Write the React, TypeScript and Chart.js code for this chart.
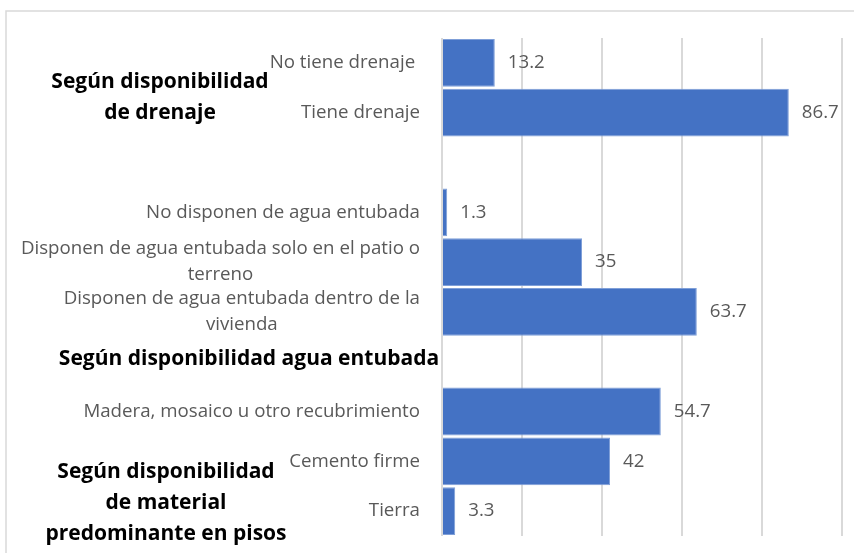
import React, { useEffect, useRef } from "react";
import { Chart, registerables } from "chart.js";

Chart.register(...registerables);

// ---- Data ----
const categories: (string | string[])[] = [
  "No tiene drenaje ",
  "Tiene drenaje",
  "",
  "No disponen de agua entubada",
  ["Disponen de agua entubada solo en el patio o", "terreno"],
  ["Disponen de agua entubada dentro de la", "vivienda"],
  "",
  "Madera, mosaico u otro recubrimiento",
  "Cemento firme",
  "Tierra",
];
const values: (number | null)[] = [13.2, 86.7, null, 1.3, 35, 63.7, null, 54.7, 42, 3.3];
const groupLabels: string[][] = [
  ["Según disponibilidad", "de drenaje"],
  ["Según disponibilidad agua entubada"],
  ["Según disponibilidad", "de material", "predominante en pisos"],
];
const xMin = 0;
const xMax = 100;
const xStep = 20;

// ---- Style ----
const FONT = "'Open Sans', Lato, sans-serif";
const LABEL_SIZE = 18.7;
const LABEL_LINE = 26;
const GROUP_SIZE = 21;
const GROUP_LINE = 31;
const TEXT_GRAY = "#595959";
const GRID = "#d9d9d9";
const BAR = "#4472C4";
// placement of group labels: fractional category index and x centre
const groupPlacement = [
  { at: 0.7, cx: 160 },
  { at: 5.95, cx: 249 },
  { at: 8.84, cx: 166 },
];

const framePlugin = {
  id: "frame",
  beforeDraw(chart: any) {
    const ctx = chart.ctx;
    ctx.save();
    ctx.fillStyle = "#ffffff";
    ctx.fillRect(0, 0, chart.width, chart.height);
    ctx.strokeStyle = GRID;
    ctx.lineWidth = 1.5;
    ctx.beginPath();
    ctx.moveTo(6, 553);
    ctx.lineTo(6, 11);
    ctx.lineTo(chart.width, 11);
    ctx.stroke();
    ctx.restore();
  },
};

const labelsPlugin = {
  id: "customLabels",
  afterDatasetsDraw(chart: any) {
    const ctx = chart.ctx;
    const yScale = chart.scales.y;
    const area = chart.chartArea;
    ctx.save();
    // category labels
    ctx.font = `${LABEL_SIZE}px ${FONT}`;
    ctx.fillStyle = TEXT_GRAY;
    ctx.textBaseline = "middle";
    ctx.textAlign = "center";
    const rightEdge = area.left - 22;
    (chart.data.labels as (string | string[])[]).forEach((lab, i) => {
      const lines = Array.isArray(lab) ? lab : [lab];
      if (!lines.join("")) return;
      const widest = Math.max(...lines.map((l) => ctx.measureText(l).width));
      const cy = yScale.getPixelForValue(i);
      const y0 = cy - ((lines.length - 1) * LABEL_LINE) / 2;
      if (lines.length === 1) {
        ctx.textAlign = "right";
        ctx.fillText(lines[0], rightEdge, cy);
        ctx.textAlign = "center";
      } else {
        const cx = rightEdge - widest / 2;
        lines.forEach((l, k) => ctx.fillText(l, cx, y0 + k * LABEL_LINE));
      }
    });
    // value labels
    ctx.textAlign = "left";
    const meta = chart.getDatasetMeta(0);
    meta.data.forEach((bar: any, i: number) => {
      const v = chart.data.datasets[0].data[i];
      if (v === null || v === undefined) return;
      ctx.fillText(String(v), bar.x + 13, bar.y);
    });
    // group labels
    ctx.font = `bold ${GROUP_SIZE}px ${FONT}`;
    ctx.fillStyle = "#000000";
    ctx.textAlign = "center";
    groupLabels.forEach((lines, g) => {
      const p = groupPlacement[g];
      const base = yScale.getPixelForValue(Math.floor(p.at));
      const step = yScale.getPixelForValue(Math.floor(p.at) + 1) - base;
      const cy = base + (p.at - Math.floor(p.at)) * step;
      const y0 = cy - ((lines.length - 1) * GROUP_LINE) / 2;
      lines.forEach((l, k) => ctx.fillText(l, p.cx, y0 + k * GROUP_LINE));
    });
    ctx.restore();
  },
};

export default function App() {
  const ref = useRef<HTMLCanvasElement>(null);
  useEffect(() => {
    document.body.style.margin = "0";
    const canvas = ref.current!;
    const chart = new Chart(canvas, {
      type: "bar",
      data: {
        labels: categories as any,
        datasets: [
          {
            data: values as any,
            backgroundColor: BAR,
            borderColor: "#7f9fd8",
            borderWidth: 1,
            barPercentage: 0.96,
            categoryPercentage: 1,
          },
        ],
      },
      options: {
        indexAxis: "y",
        animation: false,
        responsive: false,
        layout: { padding: { top: 38, right: 12, bottom: 20, left: 0 } },
        plugins: { legend: { display: false }, tooltip: { enabled: false } },
        scales: {
          x: {
            min: xMin,
            max: xMax,
            ticks: { display: false, stepSize: xStep },
            grid: { color: GRID, lineWidth: 2, drawTicks: false },
            border: { display: false },
            afterFit: (s: any) => {
              s.height = 0;
            },
          },
          y: {
            ticks: { display: false, autoSkip: false },
            grid: { display: false, drawTicks: false },
            border: { display: false },
            afterFit: (s: any) => {
              s.width = 442;
            },
          },
        },
      },
      plugins: [framePlugin, labelsPlugin],
    });
    return () => chart.destroy();
  }, []);
  return (
    <div style={{ width: 854, height: 556 }}>
      <canvas ref={ref} width={854} height={556} style={{ display: "block" }} />
    </div>
  );
}
